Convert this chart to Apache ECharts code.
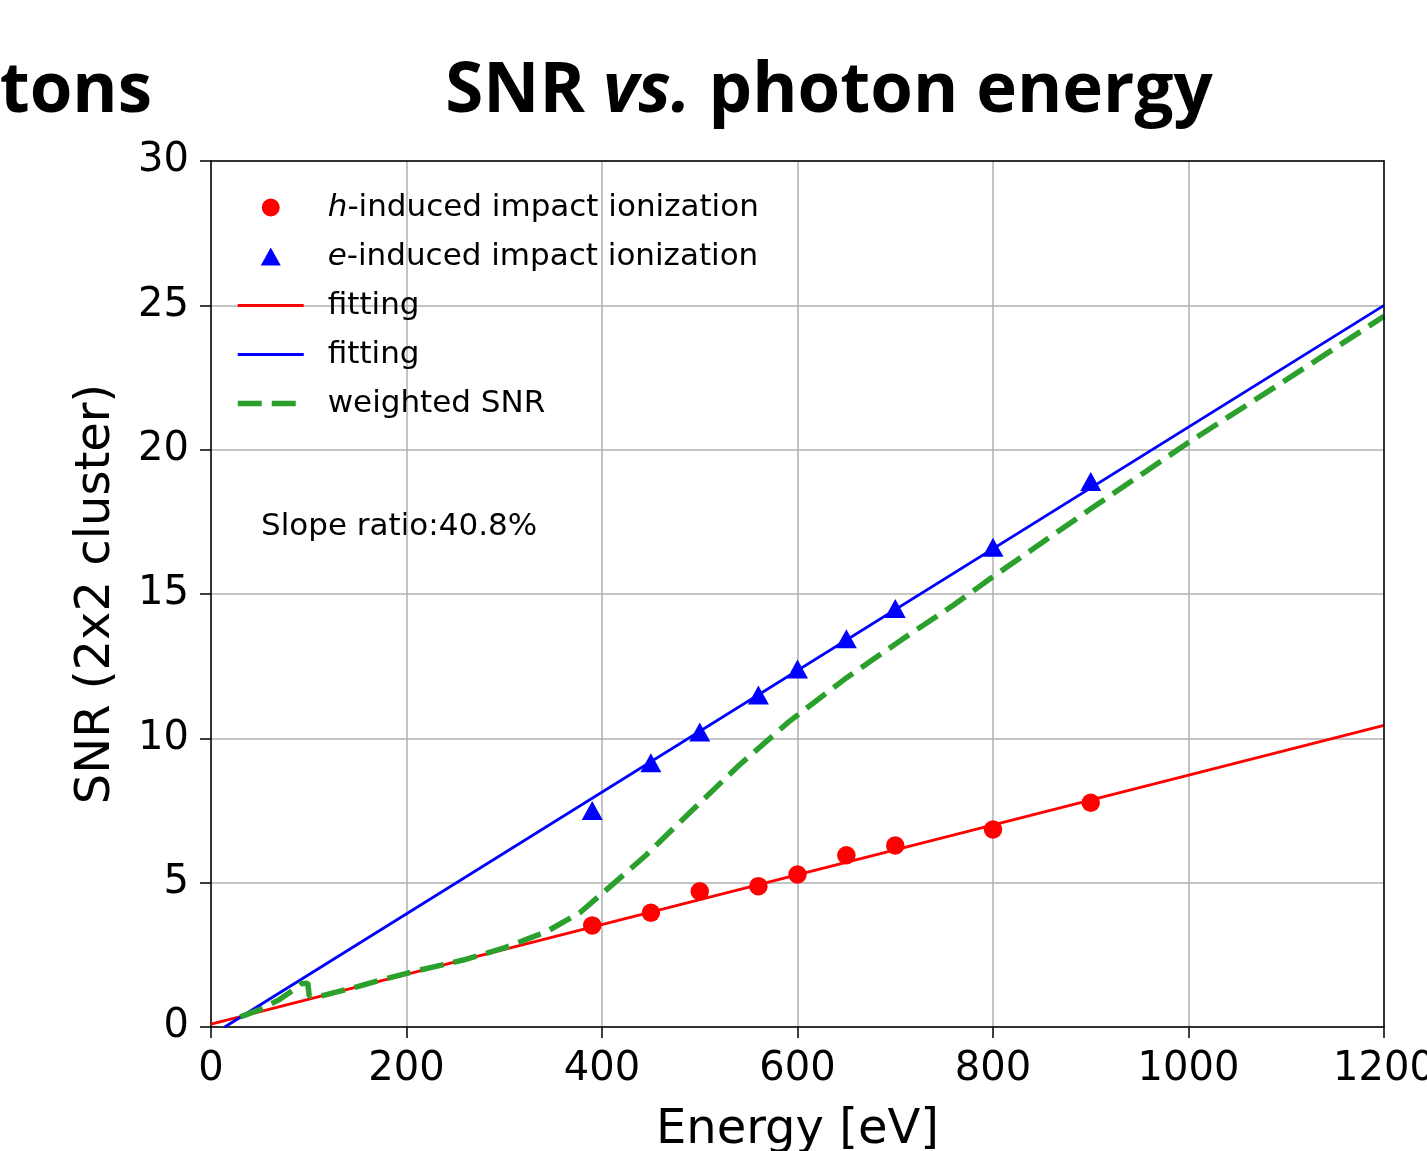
<!DOCTYPE html>
<html>
<head>
<meta charset="utf-8">
<script src="https://cdn.jsdelivr.net/npm/echarts@6/dist/echarts.min.js"></script>
<style>
  html, body { margin: 0; padding: 0; background: #fff; }
  #main { width: 1427px; height: 1151px; }
</style>
</head>
<body>
<div id="main"></div>
<script>
"use strict";

// measured points (eV -> SNR)
const energies = [390, 450, 500, 560, 600, 650, 700, 800, 900];
const snrHole = [3.52, 3.96, 4.70, 4.88, 5.28, 5.95, 6.29, 6.84, 7.77];
const snrElectron = [7.5, 9.15, 10.22, 11.5, 12.4, 13.45, 14.5, 16.62, 18.9];

// linear fits, end points
const fitHoleX = [0, 1200];
const fitHoleY = [0.1, 10.45];
const fitElecX = [14, 1200];
const fitElecY = [0, 25.0];

// weighted SNR curve
const weightedX = [30, 50, 70, 85, 92, 99, 100.5, 110, 150, 173, 207, 258, 300, 343, 377, 400,
  445, 492, 540, 591, 649, 708, 759, 800, 900, 1000, 1100, 1200];
const weightedY = [0.35, 0.6, 0.95, 1.3, 1.5, 1.52, 1.07, 1.05, 1.4, 1.62, 1.92, 2.32, 2.74, 3.3, 3.95, 4.62,
  5.95, 7.5, 9.06, 10.57, 12.07, 13.45, 14.6, 15.6, 17.95, 20.25, 22.42, 24.62];

const zip = (xs, ys) => xs.map((x, i) => [x, ys[i]]);

let myChart = echarts.init(document.getElementById('main'));

const FONT = 'DejaVu Sans';
const legendText = {
  'h-induced impact ionization': '{p| }{i|h}{t|-induced impact ionization}',
  'e-induced impact ionization': '{p| }{i|e}{t|-induced impact ionization}',
  'fitting': '{p| }{t|fitting}',
  'fitting ': '{p| }{t|fitting}',
  'weighted SNR': '{p| }{t|weighted SNR}',
};

// plain frame axes (top / right spines)
const frameAxis = {
  type: 'value', z: 4,
  axisLine: { show: true, onZero: false, lineStyle: { color: '#000', width: 1.5 } },
  axisTick: { show: false }, axisLabel: { show: false }, splitLine: { show: false },
};

let option = {
  backgroundColor: '#fff',
  animation: false,
  textStyle: { fontFamily: FONT },
  grid: {
    left: 211, right: 43, top: 161, bottom: 124,
    outerBoundsMode: 'none', containLabel: false,
  },
  graphic: [
    {
      type: 'text', x: 829, y: 92,
      style: {
        text: '{b|SNR }{i|vs.}{b| photon energy}',
        align: 'center', verticalAlign: 'middle',
        rich: {
          b: { fontFamily: 'Open Sans', fontWeight: 'bold', fontSize: 69, fill: '#000' },
          i: { fontFamily: 'Open Sans', fontWeight: 'bold', fontStyle: 'italic', fontSize: 69, fill: '#000' },
        },
      },
    },
    {
      type: 'text', x: 152, y: 92,
      style: {
        text: 'tons', align: 'right', verticalAlign: 'middle',
        fontFamily: 'Open Sans', fontWeight: 'bold', fontSize: 69, fill: '#000',
      },
    },
    {
      type: 'text', x: 261, y: 527,
      style: {
        text: 'Slope ratio:40.8%', align: 'left', verticalAlign: 'middle',
        fontFamily: FONT, fontSize: 31, fill: '#000',
      },
    },
  ],
  legend: {
    left: 230, top: 187,
    orient: 'vertical',
    itemWidth: 66, itemHeight: 18, itemGap: 18,
    data: [
      { name: 'h-induced impact ionization', icon: 'circle' },
      { name: 'e-induced impact ionization', icon: 'path://M5,0L10,9L0,9Z' },
      { name: 'fitting', lineStyle: { width: 2.8 } },
      { name: 'fitting ', lineStyle: { width: 2.8 } },
      { name: 'weighted SNR', lineStyle: { width: 5.5 } },
    ],
    formatter: (name) => legendText[name],
    textStyle: {
      color: '#000', fontFamily: FONT, fontSize: 31, lineHeight: 31,
      rich: {
        p: { width: 19, fontSize: 31, lineHeight: 31 },
        i: { fontStyle: 'italic', fontSize: 31, lineHeight: 31, color: '#000', fontFamily: FONT },
        t: { fontSize: 31, lineHeight: 31, color: '#000', fontFamily: FONT },
      },
    },
  },
  xAxis: [
    {
      type: 'value', min: 0, max: 1200, interval: 200,
      name: 'Energy [eV]', nameLocation: 'middle', nameGap: 80,
      nameTextStyle: { fontFamily: FONT, fontSize: 48, color: '#000' },
      axisLine: { show: true, onZero: false, lineStyle: { color: '#000', width: 1.5 } },
      axisTick: { show: true, length: 11, lineStyle: { color: '#000', width: 1.5 } },
      axisLabel: { fontFamily: FONT, fontSize: 40, color: '#000', margin: 23, formatter: (v) => String(v) },
      splitLine: { show: true, lineStyle: { color: '#b0b0b0', width: 1.5 } },
    },
    Object.assign({ position: 'top', min: 0, max: 1200 }, frameAxis),
  ],
  yAxis: [
    {
      type: 'value', min: 0, max: 30, interval: 5,
      name: 'SNR (2x2 cluster)', nameLocation: 'middle', nameGap: 90,
      nameTextStyle: { fontFamily: FONT, fontSize: 48, color: '#000' },
      axisLine: { show: true, onZero: false, lineStyle: { color: '#000', width: 1.5 } },
      axisTick: { show: true, length: 11, lineStyle: { color: '#000', width: 1.5 } },
      axisLabel: { fontFamily: FONT, fontSize: 40, color: '#000', margin: 22 },
      splitLine: { show: true, lineStyle: { color: '#b0b0b0', width: 1.5 } },
    },
    Object.assign({ position: 'right', min: 0, max: 30 }, frameAxis),
  ],
  series: [
    {
      name: 'h-induced impact ionization', type: 'scatter',
      data: zip(energies, snrHole),
      symbol: 'circle', symbolSize: 18.5,
      itemStyle: { color: '#ff0000', opacity: 1 },
      z: 5,
    },
    {
      name: 'e-induced impact ionization', type: 'scatter',
      data: zip(energies, snrElectron),
      symbol: 'triangle', symbolSize: [21, 19],
      itemStyle: { color: '#0000ff', opacity: 1 },
      z: 5,
    },
    {
      name: 'fitting', type: 'line',
      data: zip(fitHoleX, fitHoleY),
      symbol: 'none', clip: true,
      lineStyle: { color: '#ff0000', width: 2.8 },
      itemStyle: { color: '#ff0000', opacity: 0 },
      z: 2,
    },
    {
      name: 'fitting ', type: 'line',
      data: zip(fitElecX, fitElecY),
      symbol: 'none', clip: true,
      lineStyle: { color: '#0000ff', width: 2.8 },
      itemStyle: { color: '#0000ff', opacity: 0 },
      z: 2,
    },
    {
      name: 'weighted SNR', type: 'line',
      data: zip(weightedX, weightedY),
      symbol: 'none', clip: true, smooth: false,
      lineStyle: { color: '#2ca02c', width: 5.5, type: [24, 10] },
      itemStyle: { color: '#2ca02c', opacity: 0 },
      z: 3,
    },
  ],
};

myChart.setOption(option);
</script>
</body>
</html>
